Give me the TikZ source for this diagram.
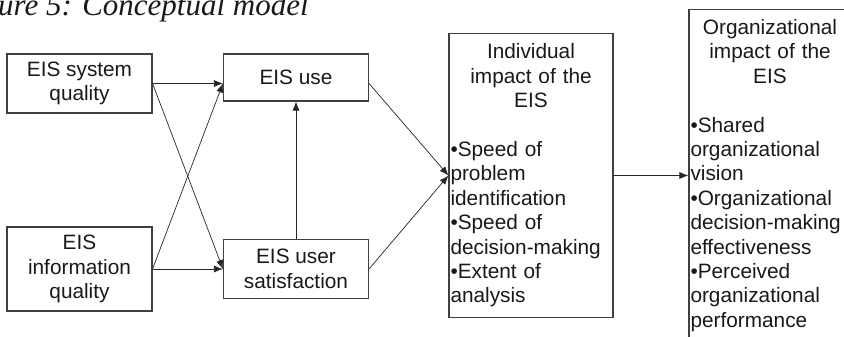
\documentclass[tikz,border=0pt]{standalone}
\usepackage{fontspec}
\setmainfont{Liberation Sans}
\newfontfamily\captionfont{Liberation Serif}
\usetikzlibrary{arrows.meta}

\begin{document}
\begin{tikzpicture}[x=1pt, y=-1pt, node distance=185.5pt,
  >={Latex[length=9pt,width=7pt]},
  every node/.style={font=\fontsize{20.8}{24.4}\selectfont, text=black!90},
  factor/.style={rectangle, draw=black!75, line width=1.1pt, align=center, minimum width=145pt, inner sep=1pt},
  impact/.style={rectangle, draw=black!75, line width=1.1pt, inner xsep=1.5pt, inner ysep=10pt},
  link/.style={->, line width=0.7pt, draw=black!85}]
\useasboundingbox (0,0) rectangle (844,337);

\node (title) [anchor=base west, inner sep=0pt, font=\captionfont\itshape\fontsize{31}{31}\selectfont] at (-2,16) {ure 5: Conceptual model};

\node (sysq) [factor, minimum height=59pt] at (79.5,83.5) {EIS system\\quality};
\node (infoq) [factor, minimum height=84pt, below of=sysq] {EIS\\information\\quality};
\node (use) [factor, minimum height=47pt, right of=sysq, node distance=216.5pt, yshift=6pt] {EIS use};
\node (sat) [factor, minimum height=59pt, right of=infoq, node distance=216.5pt] {EIS user\\satisfaction};
\node (ind) [impact, text width=161pt, minimum height=281pt] at (531,175.5) {\centering Individual\\impact of the\\EIS\par\vspace{\baselineskip}\raggedright
  \textbullet Speed of\\problem\\identification\\\textbullet Speed of\\decision-making\\\textbullet Extent of\\analysis};
\node (org) [impact, text width=159pt, right of=ind, node distance=239pt] {\centering Organizational\\impact of the\\EIS\par\vspace{\baselineskip}\raggedright
  \textbullet Shared\\organizational\\vision\\\textbullet Organizational\\decision-making\\effectiveness\\\textbullet Perceived\\organizational\\performance};

\draw [link] (sysq.east) -- (sysq.east -| use.west);
\draw [link] (sysq.east) -- (infoq.east -| sat.west);
\draw [link] (infoq.east) -- (sysq.east -| use.west);
\draw [link] (infoq.east) -- (infoq.east -| sat.west);
\draw [link] (sat.north) -- (use.south);
\draw [link] (use.east |- sysq.east) -- (ind.west);
\draw [link] (sat.east) -- (ind.west);
\draw [link] (ind.east) -- (org.west);
\end{tikzpicture}
\end{document}
